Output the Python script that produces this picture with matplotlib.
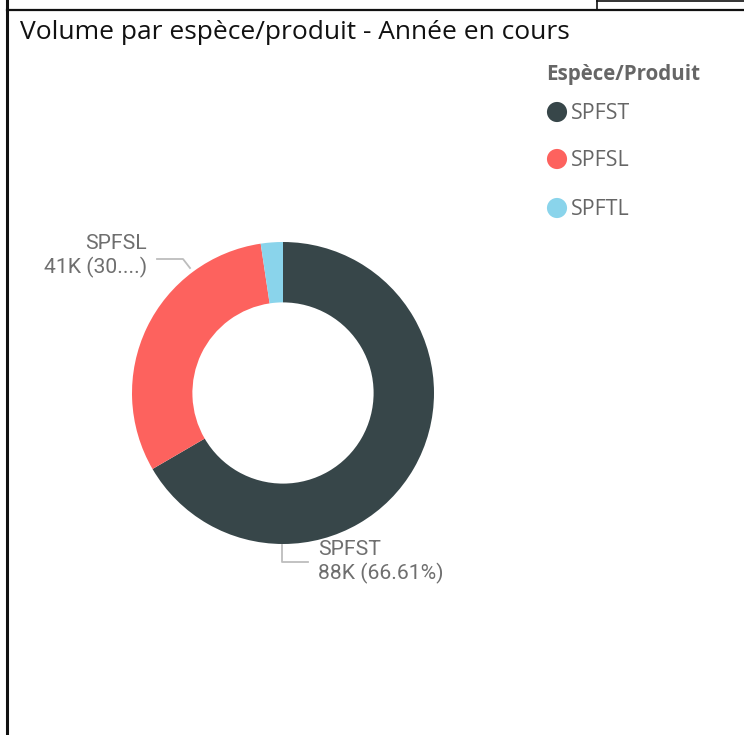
import matplotlib
matplotlib.use("Agg")
import matplotlib.pyplot as plt
from matplotlib.lines import Line2D

# donut data
categories = ["SPFST", "SPFSL", "SPFTL"]
volumes = [88000, 41000, 3120]
colors = ["#374649", "#FD625E", "#8AD4EB"]
label_texts = ["SPFST\n88K (66.61%)", "SPFSL\n41K (30....)", None]

title = "Volume par espèce/produit - Année en cours"
legend_title = "Espèce/Produit"

W, H = 744, 735
fig = plt.figure(figsize=(W / 100, H / 100), dpi=100)
fig.patch.set_facecolor("white")

# overlay in pixel coords for frame, title, legend, labels
over = fig.add_axes([0, 0, 1, 1])
over.set_xlim(0, W)
over.set_ylim(H, 0)
over.axis("off")

# frame lines (visual borders)
over.add_line(Line2D([7, 7], [0, H], color="#111111", lw=2.2))
over.add_line(Line2D([7, W], [9.5, 9.5], color="#111111", lw=1.6))
over.add_line(Line2D([597, W], [0.5, 0.5], color="#111111", lw=1.2))
over.add_line(Line2D([597, 597], [0, 9.5], color="#111111", lw=1.2))

over.text(20, 32, title, fontsize=19, family="Open Sans", color="#111111",
          va="center", ha="left")

# legend
over.text(546, 74, legend_title, fontsize=14.8, family="Open Sans", weight="bold",
          color="#666666", va="center", ha="left")
leg_y = [112, 159, 208]
for cat, col, y in zip(categories, colors, leg_y):
    over.scatter([557], [y], s=210, color=col, edgecolors="none", zorder=3)
    over.text(571, y + 1, cat, fontsize=15.4, family="Open Sans", color="#666666",
              va="center", ha="left")

# donut
cx, cy, r = 283, 393, 151
half = 200
ax = fig.add_axes([(cx - half) / W, (H - cy - half) / H, 2 * half / W, 2 * half / H])
ax.pie(volumes, colors=colors, startangle=90, counterclock=False, radius=1,
       wedgeprops=dict(width=0.4, edgecolor="none"))
ax.set_xlim(-half / r, half / r)
ax.set_ylim(-half / r, half / r)
ax.set_aspect("equal")
ax.axis("off")

# data labels with leader lines
lab_col = "#6f6f6f"
lead_col = "#bdbdbd"
over.add_line(Line2D([282, 282, 308], [545, 562, 562], color=lead_col, lw=1.3))
over.text(318, 562, label_texts[0], fontsize=15.2, family="Roboto", color=lab_col,
          va="center", ha="left", linespacing=1.28)
over.add_line(Line2D([157, 183, 190], [259, 259, 268], color=lead_col, lw=1.3))
over.text(147, 256, label_texts[1], fontsize=15.2, family="Roboto", color=lab_col,
          va="center", ha="right", linespacing=1.28, multialignment="right")

fig.savefig("out.png", dpi=100, facecolor="white")
